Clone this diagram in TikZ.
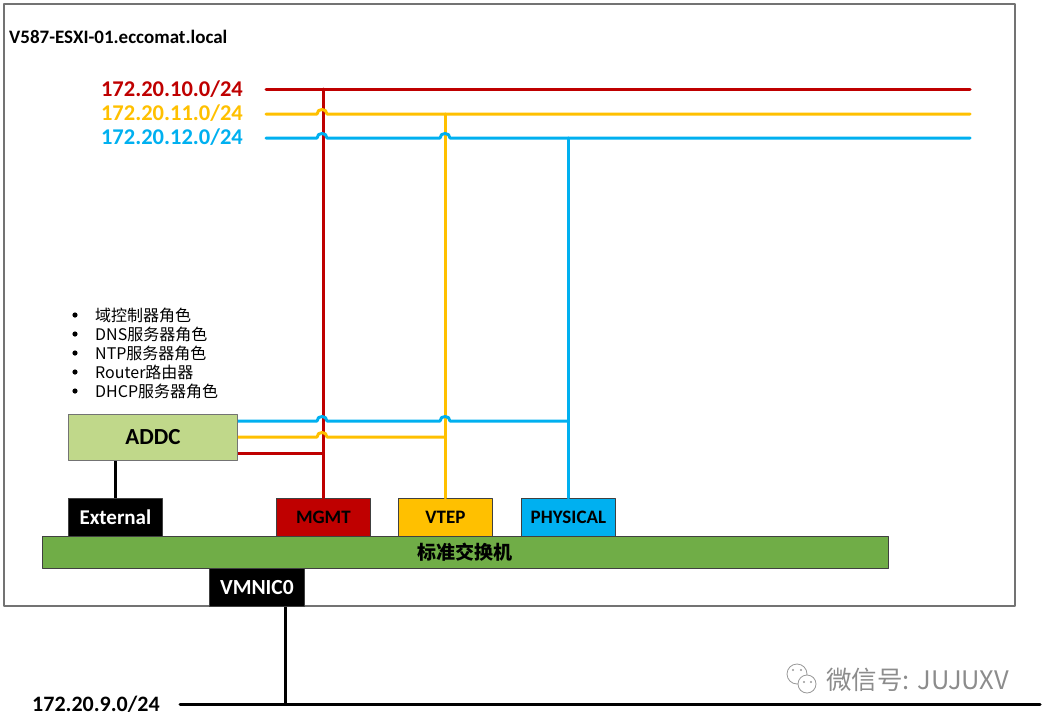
\documentclass[tikz,border=0pt]{standalone}
\usepackage{fontspec}
\setmainfont{Carlito}
\newfontfamily\cjk{Noto Sans CJK SC}
\usetikzlibrary{positioning}

\begin{document}
\begin{tikzpicture}[x=1pt,y=-1pt,line join=round,
    port/.style={draw=black!75,line width=0.8pt,anchor=north west,inner sep=0pt,
      minimum width=94pt,minimum height=38pt,font=\bfseries\fontsize{19}{19}\selectfont},
    wire/.style={line width=3pt,line cap=round},
    netlabel/.style={anchor=east,inner sep=0pt,font=\bfseries\fontsize{22.5}{22.5}\selectfont},
    role/.style={anchor=west,inner sep=0pt,font=\cjk\fontsize{16}{16}\selectfont}]

    \colorlet{mgmtcolor}{red!75!black}
    \definecolor{vtepcolor}{HTML}{FFC000}
    \definecolor{physcolor}{HTML}{00B0F0}
    \definecolor{addccolor}{HTML}{C0D88A}
    \definecolor{vsscolor}{HTML}{70AD47}

    \useasboundingbox (0,0) rectangle (1045,726);

    % host frame
    \draw[black!55,line width=1.2pt] (4,4) rectangle (1015,606);
    \node[anchor=west,inner sep=0pt,font=\bfseries\fontsize{19}{19}\selectfont] (host) at (9,37) {V587-ESXI-01.eccomat.local};

    % port groups on the switch
    \node[port,fill=vsscolor,minimum width=846pt,minimum height=32pt] (vss) at (42,536) {\cjk\bfseries 标准交换机};
    \node[port,fill=black,text=white,font=\bfseries\fontsize{21}{21}\selectfont] (ext) at (68,498) {External};
    \node[port,fill=mgmtcolor] (mgmt) at (276,498) {MGMT};
    \node[port,fill=vtepcolor] (vtep) at (398,498) {VTEP};
    \node[port,fill=physcolor] (phys) at (521,498) {PHYSICAL};
    \node[port,fill=black,text=white,minimum width=95pt,font=\bfseries\fontsize{21.5}{21.5}\selectfont] (vmnic) at (209,568) {VMNIC0};

    \node[port,fill=addccolor,draw=black!55,minimum width=169pt,minimum height=46pt,
      font=\bfseries\fontsize{23}{23}\selectfont] (addc) at (68,414) {ADDC};

    % roles of the ADDC
    \foreach \t [count=\i] in {域控制器角色,DNS服务器角色,NTP服务器角色,Router路由器,DHCP服务器角色}{
        \fill (75,296+19*\i) circle (2.6);
        \node[role] (role\i) at (95,296+19*\i) {\t};
    }

    % networks
    \node[netlabel,text=mgmtcolor] (n10) at (243,89) {172.20.10.0/24};
    \node[netlabel,text=vtepcolor] (n11) at (243,113) {172.20.11.0/24};
    \node[netlabel,text=physcolor] (n12) at (243,137) {172.20.12.0/24};
    \coordinate (r0) at (266,89);  \coordinate (r1) at (970,89);
    \coordinate (y0) at (266,114); \coordinate (y1) at (970,114);
    \coordinate (b0) at (266,138); \coordinate (b1) at (970,138);

    \draw[wire,mgmtcolor] (mgmt.north) -- (mgmt.north |- r0);
    \draw[wire,vtepcolor] (vtep.north) -- (vtep.north |- y0);
    \draw[wire,physcolor] (phys.north) -- (phys.north |- b0);

    \draw[wire,mgmtcolor] (r0) -- (r1);
    \draw[wire,vtepcolor] (y0) -- (317,114) .. controls (317,108) and (327,108) .. (327,114) -- (y1);
    \draw[wire,physcolor] (b0) -- (317,138) .. controls (317,132) and (327,132) .. (327,138)
        -- (440,138) .. controls (440,132) and (450,132) .. (450,138) -- (b1);

    % ADDC uplinks
    \draw[wire,line cap=butt,physcolor] (addc.east |- 0,421) -- (317,421) .. controls (317,415) and (327,415) .. (327,421)
        -- (440,421) .. controls (440,415) and (450,415) .. (450,421) -- (phys.north |- 0,421);
    \draw[wire,line cap=butt,vtepcolor] (addc.east |- 0,437) -- (317,437) .. controls (317,431) and (327,431) .. (327,437)
        -- (vtep.north |- 0,437);
    \draw[wire,line cap=butt,mgmtcolor] (addc.east |- 0,453) -- (mgmt.north |- 0,453);
    \draw[wire,line cap=butt] (ext.north) -- (ext.north |- addc.south);

    % uplink
    \coordinate (up) at (285,704);
    \coordinate (e0) at (180,704); \coordinate (e1) at (1040,704);
    \draw[wire,line cap=butt] (up |- vmnic.south) -- (up);
    \draw[wire] (e0) -- (e1);
    \node[anchor=west,inner sep=0pt,font=\bfseries\fontsize{22}{22}\selectfont] (n9) at (32,704) {172.20.9.0/24};

    % watermark
    \draw[black!40,fill=white,line width=0.8pt] (797,674) circle (10);
    \draw[black!40,fill=white,line width=0.8pt] (807,684) circle (9);
    \fill[black!40] (793,670) circle (1.2) (801,670) circle (1.2) (804,682) circle (1.1) (811,682) circle (1.1);
    \node[anchor=west,inner sep=0pt,text=black!45,font=\cjk\fontsize{25.5}{25.5}\selectfont] (wm) at (826,680) {微信号: JUJUXV};

\end{tikzpicture}
\end{document}
